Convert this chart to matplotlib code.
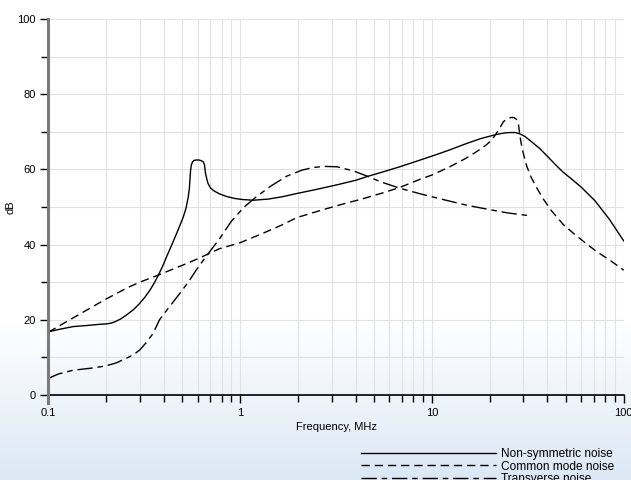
import numpy as np
import matplotlib
matplotlib.use('Agg')
import matplotlib.pyplot as plt
from matplotlib.lines import Line2D
from matplotlib.ticker import LogLocator, FixedLocator, NullFormatter, FixedFormatter

# frequency (MHz) / level (dB)
f_nonsym = [0.1, 0.115, 0.135, 0.16, 0.185, 0.2, 0.212, 0.223, 0.238, 0.256, 0.278, 0.3, 0.32, 0.339, 0.357,
            0.375, 0.395, 0.414, 0.44, 0.467, 0.49, 0.506, 0.522, 0.536, 0.544, 0.548, 0.552, 0.557, 0.565,
            0.575, 0.59, 0.61, 0.628, 0.643, 0.652, 0.66, 0.67, 0.68, 0.7, 0.73, 0.78, 0.85, 0.93, 1.02,
            1.17, 1.4, 1.65, 1.98, 2.46, 3.2, 4.0, 4.66, 5.7, 6.8, 8.7, 10.5, 12.4, 15.0, 18.0, 21.7, 24.0,
            25.6, 27.2, 28.6, 30.5, 33.0, 36.4, 40, 44, 48, 53, 60, 71, 84, 100]
db_nonsym = [16.8, 17.5, 18.2, 18.5, 18.8, 18.9, 19.1, 19.5, 20.2, 21.3, 22.7, 24.4, 26.1, 27.9, 29.8,
             31.9, 34.3, 36.8, 39.9, 43.0, 45.6, 47.4, 49.6, 52.5, 55.0, 57.5, 59.8, 61.2, 62.0,
             62.4, 62.5, 62.5, 62.3, 62.0, 61.2, 59.0, 57.5, 56.3, 55.1, 54.3, 53.5, 52.8, 52.3, 52.0,
             51.8, 52.1, 52.7, 53.6, 54.6, 55.9, 57.1, 58.2, 59.5, 60.7, 62.5, 63.9, 65.2, 66.8, 68.2, 69.3, 69.7,
             69.8, 69.8, 69.5, 68.8, 67.4, 65.6, 63.5, 61.3, 59.4, 57.6, 55.3, 51.6, 46.8, 41.0]

f_common = [0.1, 0.14, 0.198, 0.26, 0.3, 0.375, 0.5, 0.6, 0.78, 1.0, 1.3, 1.65, 1.98, 2.67, 3.5, 4.3,
            5.5, 6.8, 8.7, 10, 12.4, 15.1, 17.2, 19.2, 20.5, 21.7, 22.7, 23.6, 24.8, 25.8, 26.7, 27.5,
            28.0, 28.3, 28.6, 29.0, 29.6, 30.4, 31.3, 33.0, 35.3, 38, 42, 48.5, 55, 61.5, 72, 85, 100]
db_common = [16.7, 21.0, 25.4, 28.6, 30.0, 31.9, 34.5, 36.2, 38.9, 40.5, 42.9, 45.2, 47.2, 49.2, 50.9, 52.1,
             53.7, 55.2, 57.4, 58.5, 60.7, 63.0, 64.8, 66.5, 67.8, 69.6, 71.2, 72.7, 73.5, 73.8, 73.8, 73.4,
             72.8, 71.8, 70.0, 67.8, 65.4, 63.0, 60.7, 57.8, 55.0, 52.2, 49.0, 45.3, 42.9, 40.9, 38.2, 35.8, 33.2]

f_trans = [0.1, 0.113, 0.135, 0.165, 0.198, 0.225, 0.256, 0.28, 0.3, 0.325, 0.352, 0.38, 0.43, 0.485,
           0.54, 0.59, 0.64, 0.694, 0.78, 0.9, 1.05, 1.22, 1.45, 1.75, 2.1, 2.4, 2.73, 3.2, 3.9, 4.6, 5.4,
           6.8, 8.7, 11, 15.1, 20, 25, 29, 33]
db_trans = [4.4, 5.6, 6.6, 7.1, 7.7, 8.5, 9.8, 10.8, 12.0, 14.0, 16.4, 20.0, 23.6, 27.0,
            30.2, 33.2, 35.7, 38.1, 41.5, 46.2, 50.0, 52.8, 55.6, 58.2, 59.8, 60.5, 60.8, 60.7, 59.6, 58.2, 56.7,
            55.0, 53.5, 52.2, 50.5, 49.3, 48.4, 48.0, 47.6]

labels = ['Non-symmetric noise', 'Common mode noise', 'Transverse noise']

plt.rcParams['font.family'] = ['Liberation Sans', 'DejaVu Sans']

fig = plt.figure(figsize=(6.31, 4.8), dpi=100)

# pale blue wash at the bottom of the page
bg = fig.add_axes([0, 0, 1, 1], zorder=-10)
grad = np.ones((480, 1, 3))
t = np.clip((np.arange(480) - 320) / 160.0, 0, 1)
base = np.array([1.0, 1.0, 1.0])
blue = np.array([0.86, 0.91, 0.96])
grad[:, 0, :] = base[None, :] * (1 - t[:, None]) + blue[None, :] * t[:, None]
bg.imshow(grad, aspect='auto', extent=[0, 1, 0, 1], origin='upper')
bg.axis('off')

ax = fig.add_axes([48.3 / 631, 1 - 395 / 480, 575.4 / 631, 376 / 480])
ax.patch.set_alpha(0)

ax.plot(f_nonsym, db_nonsym, color='black', lw=1.0, ls='-', label=labels[0])
ax.plot(f_common, db_common, color='black', lw=1.0, ls=(0, (6, 3.5)), label=labels[1])
ax.plot(f_trans, db_trans, color='black', lw=1.0, ls=(0, (11, 3.5, 4, 3.5)), label=labels[2])

ax.set_xscale('log')
ax.set_xlim(0.1, 100)
ax.set_ylim(0, 100)

ax.xaxis.set_major_locator(FixedLocator([0.1, 1, 10, 100]))
ax.xaxis.set_major_formatter(FixedFormatter(['0.1', '1', '10', '100']))
ax.xaxis.set_minor_locator(LogLocator(base=10, subs=np.arange(2, 10)))
ax.xaxis.set_minor_formatter(NullFormatter())
ax.yaxis.set_major_locator(FixedLocator([0, 20, 40, 60, 80, 100]))
ax.yaxis.set_minor_locator(FixedLocator([10, 30, 50, 70, 90]))

ax.grid(True, which='both', color='#e2e2e2', lw=0.8)
ax.set_axisbelow(True)

ax.tick_params(axis='both', which='major', length=6, width=1, labelsize=8, colors='black', pad=3)
ax.tick_params(axis='both', which='minor', length=5, width=1)

for s in ['top', 'right']:
    ax.spines[s].set_visible(False)
ax.spines['bottom'].set_linewidth(1.2)
ax.spines['left'].set_visible(False)
ax.add_line(Line2D([0, 0], [-0.022, 1], transform=ax.transAxes, color='#7a7a7a', lw=2.2, clip_on=False, zorder=5))

ax.set_xlabel('Frequency, MHz', fontsize=8, labelpad=3)
ax.set_ylabel('dB', fontsize=8, labelpad=1)

fig.legend(loc='upper left', bbox_to_anchor=(361 / 631, 1 - 448 / 480), frameon=False, fontsize=8.6,
           handlelength=11.3, handletextpad=0.45, labelspacing=0.05, borderpad=0, borderaxespad=0)

fig.savefig('out.png', dpi=100)
